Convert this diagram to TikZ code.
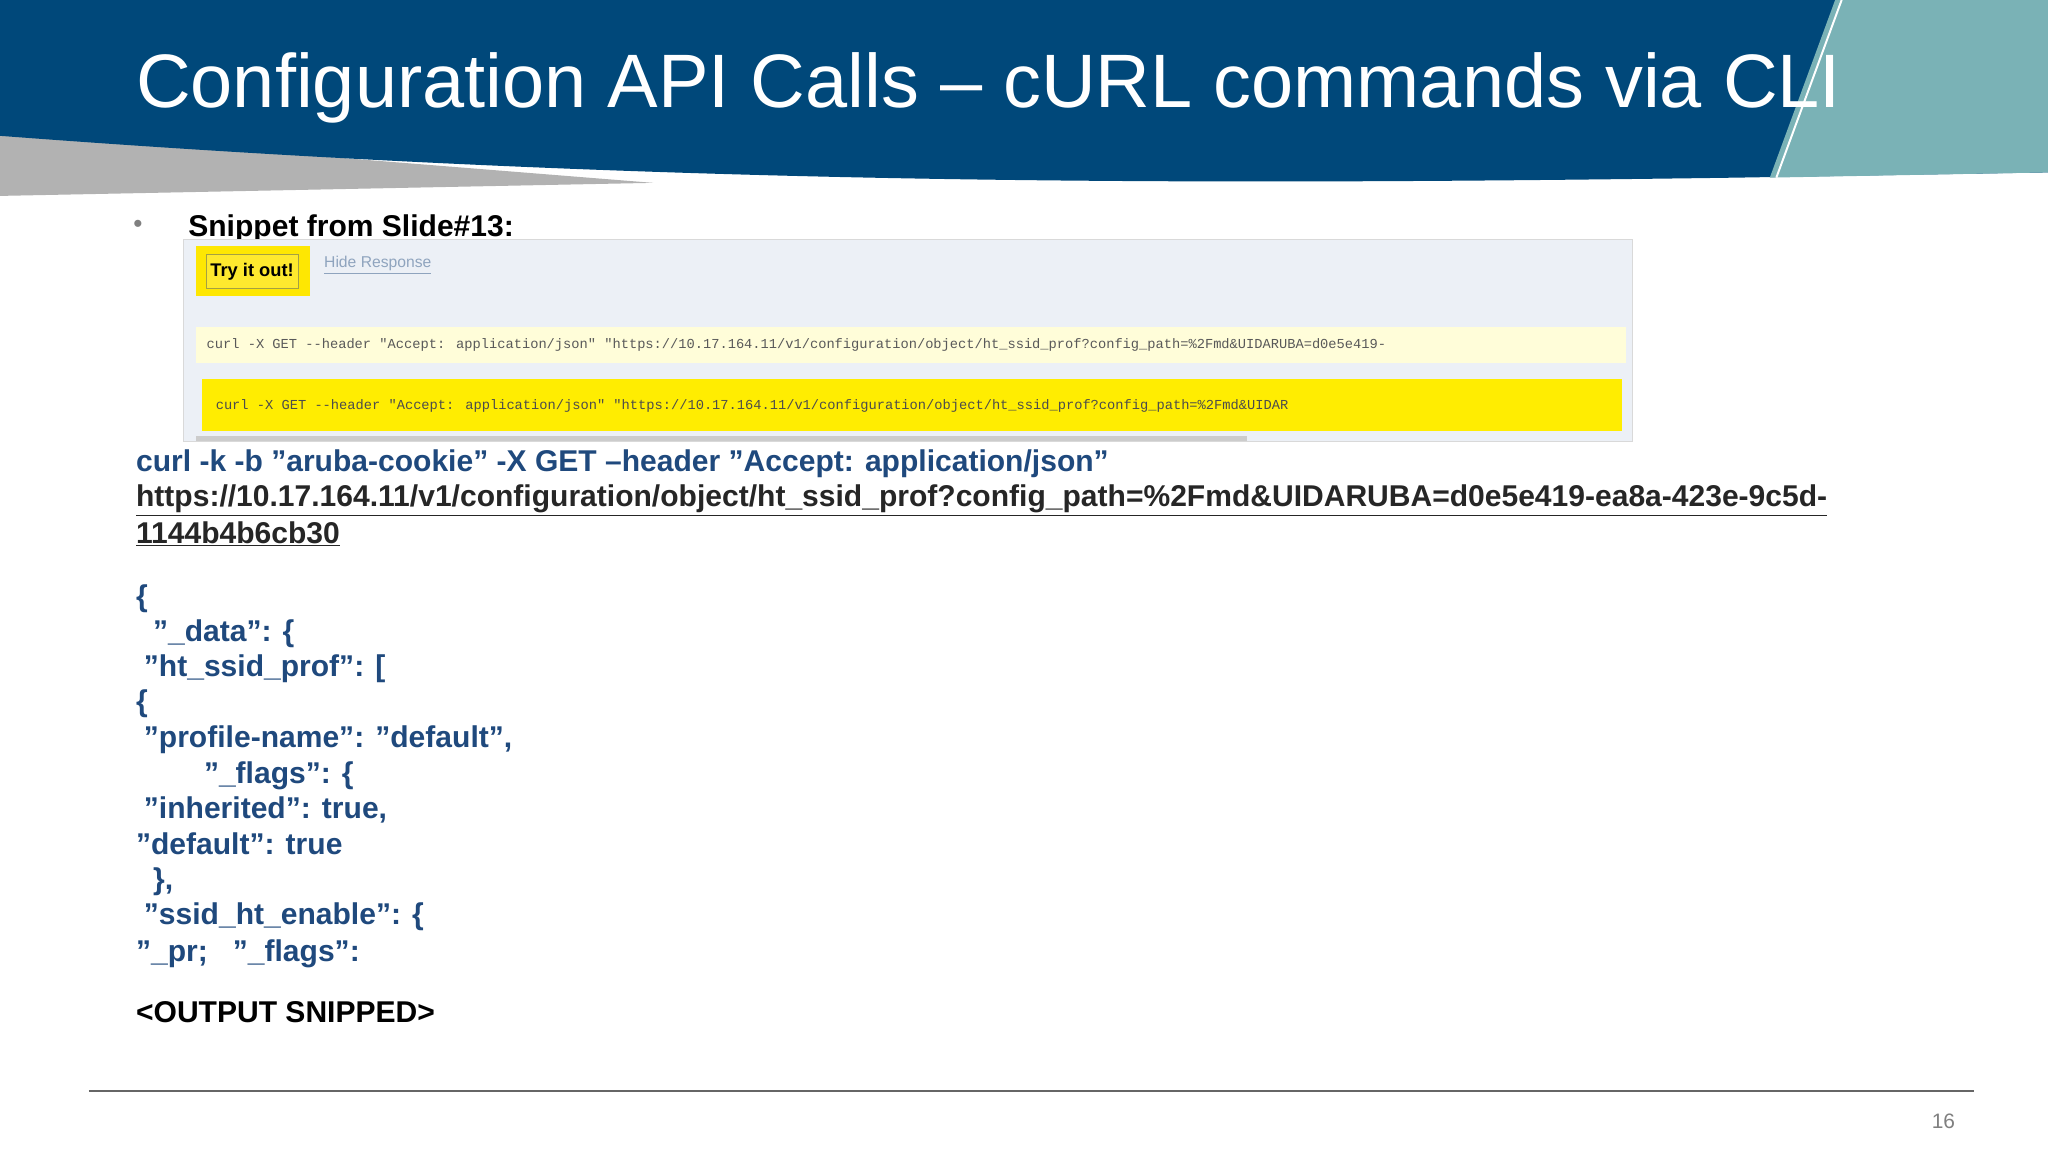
\documentclass[tikz,border=0pt]{standalone}
\usepackage{fontspec}
\setmainfont{Liberation Sans}
\newfontfamily\codefont{Liberation Mono}
\begin{document}
\begin{tikzpicture}[x=1pt,y=-1pt,
  txt/.style={anchor=base west,inner sep=0pt,font=\fontsize{23}{27}\selectfont\bfseries,text=blueT},
  code/.style={anchor=west,inner sep=0pt,font=\codefont\fontsize{10.5}{12}\selectfont,text=gray!70!black}]
\definecolor{hdr}{RGB}{0,72,122}
\definecolor{teal}{RGB}{122,178,182}
\definecolor{blueT}{RGB}{31,73,125}
\definecolor{shot}{RGB}{236,240,246}
\useasboundingbox (0,0) rectangle (1568,882);
\fill[white] (0,0) rectangle (1568,882);
% header
\fill[gray!60] (0,100) -- (500,140) -- (0,150) -- cycle;
\fill[hdr] (0,0) -- (1568,0) -- (1568,132) -- (1330,136) .. controls (900,142) and (500,142) .. (0,104) -- cycle;
\fill[teal] (1405,0) -- (1568,0) -- (1568,132) -- (1355,136) -- cycle;
\draw[white,line width=1.5pt] (1410,0) -- (1360,136);
\node[anchor=base west,inner sep=0pt,text=white,font=\fontsize{58}{60}\selectfont] (title) at (104,82) {Configuration API Calls -- cURL commands via CLI};
% bullet
\node[anchor=base west,inner sep=0pt,text=gray,font=\fontsize{20}{20}\selectfont] (bul) at (102,178) {•};
\node[anchor=base west,inner sep=0pt,font=\fontsize{23}{27}\selectfont\bfseries] (snip) at (144,181) {Snippet from Slide\#13:};
% screenshot
\fill[shot] (140,183) rectangle (1250,338);
\draw[gray!30] (140,183) rectangle (1250,338);
\fill[yellow!90!orange] (150,188) rectangle (237,227);
\node[draw=yellow!60!black,fill=yellow!80!white!90!orange,inner sep=3pt,font=\fontsize{14}{14}\selectfont\bfseries,minimum width=70pt,minimum height=26pt] (try) at (193,208) {Try it out!};
\node[anchor=west,inner sep=0pt,font=\fontsize{12}{12}\selectfont,text=blueT!50] (hide) at (248,203) {\underline{Hide Response}};
\fill[yellow!15] (150,250) rectangle (1245,278);
\node[code] (c1) at (158,264) {curl -X GET --header "Accept: application/json" "https://10.17.164.11/v1/configuration/object/ht\_ssid\_prof?config\_path=\%2Fmd\&UIDARUBA=d0e5e419-};
\fill[yellow!95!orange] (155,290) rectangle (1242,330);
\node[code,text=gray!60!black] (c2) at (165,311) {curl -X GET --header "Accept: application/json" "https://10.17.164.11/v1/configuration/object/ht\_ssid\_prof?config\_path=\%2Fmd\&UIDAR};
\fill[gray!40] (150,334) rectangle (955,338);
% main text
\node[txt] (l1) at (104,361) {curl -k -b "aruba-cookie" -X GET --header "Accept: application/json"};
\node[txt,text=gray!30!black] (l2) at (104,388) {\underline{https://10.17.164.11/v1/configuration/object/ht\_ssid\_prof?config\_path=\%2Fmd\&UIDARUBA=d0e5e419-ea8a-423e-9c5d-}};
\node[txt,text=gray!30!black] (l3) at (104,416) {\underline{1144b4b6cb30}};
\node[txt] (j1) at (104,464) {\{};
\node[txt] (j2) at (117,491) {"\_data": \{};
\node[txt] (j3) at (110,518) {"ht\_ssid\_prof": [};
\node[txt] (j4) at (104,545) {\{};
\node[txt] (j5) at (110,572) {"profile-name": "default",};
\node[txt] (j6) at (156,600) {"\_flags": \{};
\node[txt] (j7) at (110,627) {"inherited": true,};
\node[txt] (j8) at (104,654) {"default": true};
\node[txt] (j9) at (117,681) {\},};
\node[txt] (j10) at (110,708) {"ssid\_ht\_enable": \{};
\node[txt] (j11) at (104,736) {"\_pr;\ \ \ "\_flags":};
\node[txt,text=black] (out) at (104,783) {<OUTPUT SNIPPED>};
% footer
\draw[gray!80!black,line width=1.5pt] (68,835) coordinate (fa) -- (1511,835) coordinate (fb);
\node[anchor=base east,inner sep=0pt,text=gray,font=\fontsize{16}{16}\selectfont] (pg) at (1497,864) {16};
\end{tikzpicture}
\end{document}
